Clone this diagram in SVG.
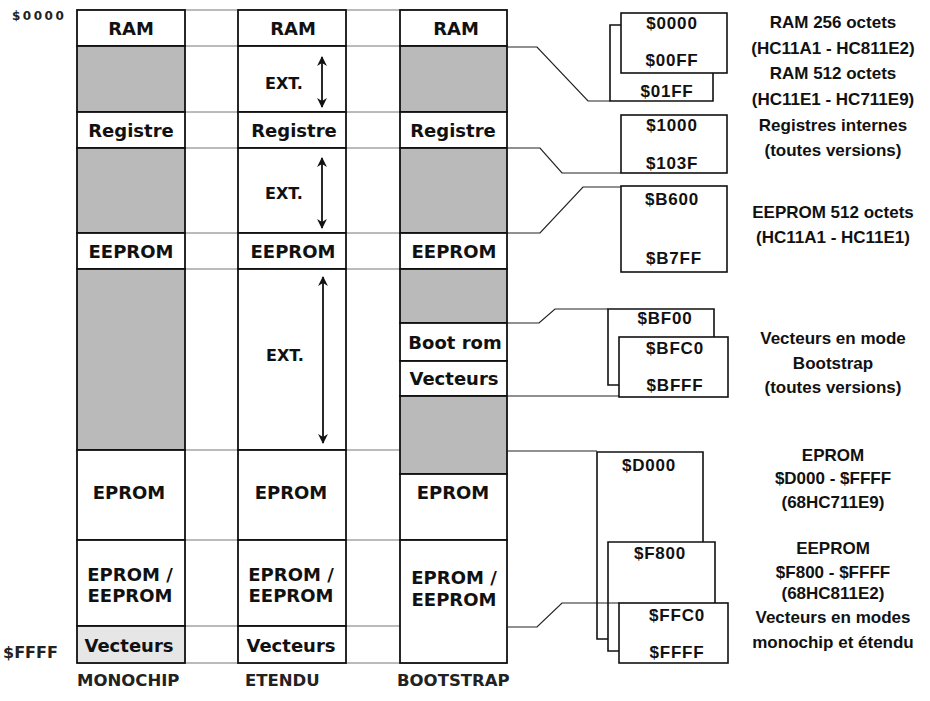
<svg xmlns="http://www.w3.org/2000/svg" width="930" height="701" viewBox="0 0 930 701">
<style>
  .col { font-family: "DejaVu Sans", sans-serif; font-weight: bold; font-size: 18px; fill: #111; text-anchor: middle; }
  .ext { font-family: "DejaVu Sans", sans-serif; font-weight: bold; font-size: 16px; fill: #111; text-anchor: middle; }
  .foot { font-family: "DejaVu Sans", sans-serif; font-weight: bold; font-size: 16.5px; fill: #222; }
  .addr { font-family: "Liberation Sans", Arial, sans-serif; font-weight: bold; font-size: 17px; letter-spacing: 0.8px; fill: #111; text-anchor: middle; }
  .lab { font-family: "Liberation Sans", Arial, sans-serif; font-weight: bold; font-size: 17px; fill: #111; text-anchor: middle; }
  .cell { fill: #fff; stroke: #111; stroke-width: 1.8; }
  .grey { fill: #bababa; stroke: #111; stroke-width: 1.8; }
  .lgrey { fill: #e6e6e6; stroke: #111; stroke-width: 1.8; }
  .row { stroke: #777; stroke-width: 1; fill: none; }
  .conn { stroke: #222; stroke-width: 1.2; fill: none; }
  .box { stroke: #111; stroke-width: 1.6; fill: #fff; }
  .boxl { stroke: #111; stroke-width: 1.6; fill: none; }
  .arr { stroke: #111; stroke-width: 1.8; fill: none; marker-start: url(#ah); marker-end: url(#ah); }
</style>
<defs>
  <marker id="ah" viewBox="0 0 10 10" refX="9" refY="5" markerWidth="5.5" markerHeight="5.5" orient="auto-start-reverse" markerUnits="strokeWidth">
    <path d="M0,0 L10,5 L0,10 L3,5 Z" fill="#111"/>
  </marker>
</defs>
<rect x="0" y="0" width="930" height="701" fill="#fff"/>

<!-- row extension lines between columns -->
<g id="row-lines">
  <path class="row" d="M77,10 H507 M77,46 H507 M77,112 H507 M77,148 H507 M77,233 H507 M77,269 H507 M77,450 H507 M77,540 H507 M77,626 H507 M77,663 H507"/>
</g>

<!-- MONOCHIP column -->
<g id="mono-ram"><rect class="cell" x="77" y="10" width="108" height="36"/><text class="col" x="131" y="35">RAM</text></g>
<g id="mono-ext1"><rect class="grey" x="77" y="46" width="108" height="66"/></g>
<g id="mono-reg"><rect class="cell" x="77" y="112" width="108" height="36"/><text class="col" x="131" y="137">Registre</text></g>
<g id="mono-ext2"><rect class="grey" x="77" y="148" width="108" height="85"/></g>
<g id="mono-eeprom"><rect class="cell" x="77" y="233" width="108" height="36"/><text class="col" x="131" y="258">EEPROM</text></g>
<g id="mono-ext3"><rect class="grey" x="77" y="269" width="108" height="181"/></g>
<g id="mono-eprom"><rect class="cell" x="77" y="450" width="108" height="90"/><text class="col" x="129" y="499">EPROM</text></g>
<g id="mono-eeprom2"><rect class="cell" x="77" y="540" width="108" height="86"/><text class="col" x="130" y="581">EPROM /</text><text class="col" x="130" y="602">EEPROM</text></g>
<g id="mono-vect"><rect class="lgrey" x="77" y="626" width="108" height="37"/><text class="col" x="129" y="652">Vecteurs</text></g>

<!-- ETENDU column -->
<g id="ext-ram"><rect class="cell" x="238" y="10" width="108" height="36"/><text class="col" x="293" y="35">RAM</text></g>
<g id="ext-ext1"><rect class="cell" x="238" y="46" width="108" height="66"/><text class="ext" x="284" y="89">EXT.</text><line class="arr" x1="322" y1="57" x2="322" y2="107"/></g>
<g id="ext-reg"><rect class="cell" x="238" y="112" width="108" height="36"/><text class="col" x="294" y="137">Registre</text></g>
<g id="ext-ext2"><rect class="cell" x="238" y="148" width="108" height="85"/><text class="ext" x="284" y="199">EXT.</text><line class="arr" x1="322" y1="158" x2="322" y2="228"/></g>
<g id="ext-eeprom"><rect class="cell" x="238" y="233" width="108" height="36"/><text class="col" x="293" y="258">EEPROM</text></g>
<g id="ext-ext3"><rect class="cell" x="238" y="269" width="108" height="181"/><text class="ext" x="285" y="361">EXT.</text><line class="arr" x1="323" y1="277" x2="323" y2="443"/></g>
<g id="ext-eprom"><rect class="cell" x="238" y="450" width="108" height="90"/><text class="col" x="291" y="499">EPROM</text></g>
<g id="ext-eeprom2"><rect class="cell" x="238" y="540" width="108" height="86"/><text class="col" x="291" y="581">EPROM /</text><text class="col" x="291" y="602">EEPROM</text></g>
<g id="ext-vect"><rect class="cell" x="238" y="626" width="108" height="37"/><text class="col" x="291" y="652">Vecteurs</text></g>

<!-- BOOTSTRAP column -->
<g id="boot-ram"><rect class="cell" x="400" y="10" width="107" height="36"/><text class="col" x="456" y="35">RAM</text></g>
<g id="boot-ext1"><rect class="grey" x="400" y="46" width="107" height="66"/></g>
<g id="boot-reg"><rect class="cell" x="400" y="112" width="107" height="36"/><text class="col" x="453" y="137">Registre</text></g>
<g id="boot-ext2"><rect class="grey" x="400" y="148" width="107" height="85"/></g>
<g id="boot-eeprom"><rect class="cell" x="400" y="233" width="107" height="36"/><text class="col" x="454" y="258">EEPROM</text></g>
<g id="boot-ext3"><rect class="grey" x="400" y="269" width="107" height="54"/></g>
<g id="boot-rom"><rect class="cell" x="400" y="323" width="107" height="38"/><text class="col" x="455" y="349">Boot rom</text></g>
<g id="boot-vect"><rect class="cell" x="400" y="361" width="107" height="35"/><text class="col" x="454" y="385">Vecteurs</text></g>
<g id="boot-ext4"><rect class="grey" x="400" y="396" width="107" height="78"/></g>
<g id="boot-eprom"><rect class="cell" x="400" y="474" width="107" height="66"/><text class="col" x="453" y="499">EPROM</text></g>
<g id="boot-eeprom2"><rect class="cell" x="400" y="540" width="107" height="123"/><text class="col" x="454" y="584">EPROM /</text><text class="col" x="454" y="606">EEPROM</text></g>

<!-- connectors -->
<g id="connectors">
  <path class="conn" d="M507,47 H537 L588,101 H610"/>
  <path class="conn" d="M507,148 H540 L562,173 H621"/>
  <path class="conn" d="M507,233 H540 L583,187 H621"/>
  <path class="conn" d="M507,323 H539 L555,309 H608"/>
  <path class="conn" d="M507,396 H619"/>
  <path class="conn" d="M507,451 H597"/>
  <path class="conn" d="M507,627 H537 L562,603 H619"/>
</g>

<!-- address boxes -->
<g id="box-01ff"><path class="boxl" d="M621,25 H610 V101 H713 V73"/><text class="addr" x="667" y="97">$01FF</text></g>
<g id="box-0000"><rect class="box" x="621" y="13" width="106" height="60"/><text class="addr" x="672" y="29">$0000</text><text class="addr" x="672" y="66">$00FF</text></g>
<g id="box-1000"><rect class="box" x="621" y="115" width="106" height="58"/><text class="addr" x="672" y="131">$1000</text><text class="addr" x="672" y="169">$103F</text></g>
<g id="box-b600"><rect class="box" x="621" y="186" width="106" height="86"/><text class="addr" x="672" y="205">$B600</text><text class="addr" x="674" y="264">$B7FF</text></g>
<g id="box-bf00"><path class="boxl" d="M714,337 V309 H608 V385 H619"/><text class="addr" x="665" y="324">$BF00</text></g>
<g id="box-bfc0"><rect class="box" x="619" y="337" width="109" height="60"/><text class="addr" x="675" y="354">$BFC0</text><text class="addr" x="675" y="391">$BFFF</text></g>
<g id="box-d000"><path class="boxl" d="M703,542 V452 H597 V639 H608"/><text class="addr" x="649" y="471">$D000</text></g>
<g id="box-f800"><path class="boxl" d="M715,603 V542 H608 V651 H619"/><text class="addr" x="660" y="559">$F800</text></g>
<g id="box-ffc0"><rect class="box" x="619" y="603" width="109" height="60"/><text class="addr" x="677" y="621">$FFC0</text><text class="addr" x="677" y="658">$FFFF</text></g>

<!-- right labels -->
<g id="labels">
  <text class="lab" x="833" y="28">RAM 256 octets</text>
  <text class="lab" x="833" y="54">(HC11A1 - HC811E2)</text>
  <text class="lab" x="833" y="79">RAM 512 octets</text>
  <text class="lab" x="833" y="105">(HC11E1 - HC711E9)</text>
  <text class="lab" x="833" y="131">Registres internes</text>
  <text class="lab" x="833" y="156">(toutes versions)</text>
  <text class="lab" x="833" y="218">EEPROM 512 octets</text>
  <text class="lab" x="833" y="243">(HC11A1 - HC11E1)</text>
  <text class="lab" x="833" y="344">Vecteurs en mode</text>
  <text class="lab" x="833" y="369">Bootstrap</text>
  <text class="lab" x="833" y="393">(toutes versions)</text>
  <text class="lab" x="833" y="461">EPROM</text>
  <text class="lab" x="833" y="484">$D000 - $FFFF</text>
  <text class="lab" x="833" y="508">(68HC711E9)</text>
  <text class="lab" x="833" y="554">EEPROM</text>
  <text class="lab" x="833" y="578">$F800 - $FFFF</text>
  <text class="lab" x="833" y="599">(68HC811E2)</text>
  <text class="lab" x="833" y="623">Vecteurs en modes</text>
  <text class="lab" x="833" y="648">monochip et étendu</text>
</g>

<!-- address scale and mode names -->
<g id="scale">
  <text class="foot" x="12" y="20" style="font-size:12px; letter-spacing:2.5px">$0000</text>
  <text class="foot" x="3" y="658" style="font-size:16px">$FFFF</text>
  <text class="foot" x="77" y="686">MONOCHIP</text>
  <text class="foot" x="245" y="686">ETENDU</text>
  <text class="foot" x="397" y="686">BOOTSTRAP</text>
</g>
</svg>
